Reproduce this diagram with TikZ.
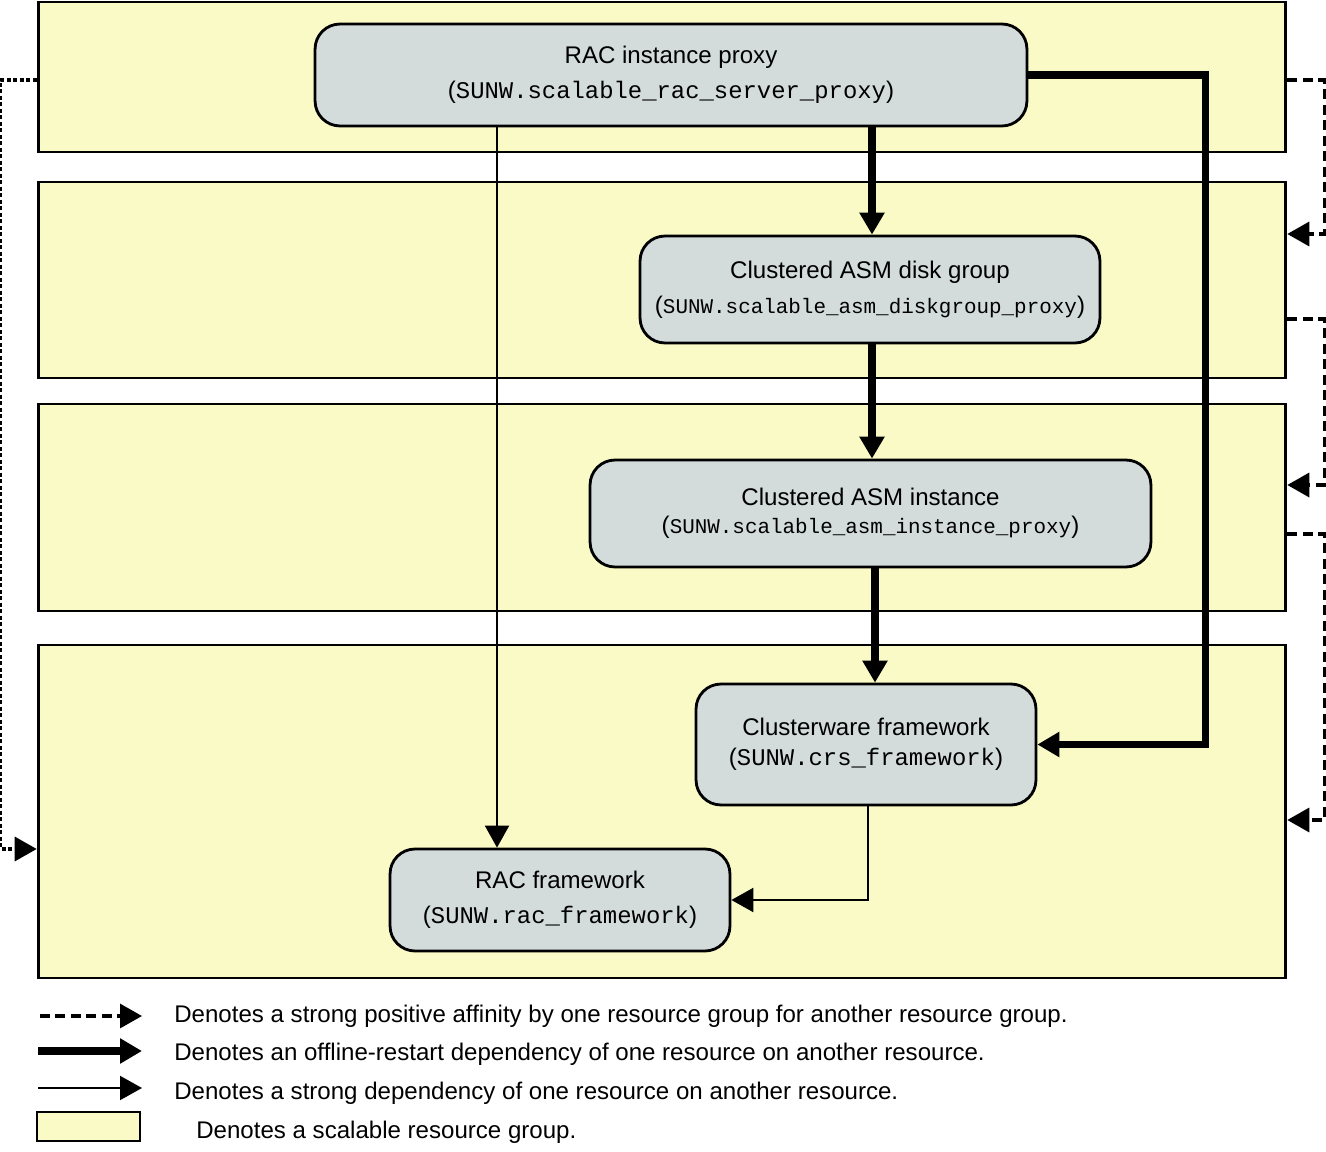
\documentclass[tikz,border=0pt]{standalone}
\usepackage{fontspec}
\setmainfont{Liberation Sans}
\setmonofont{Liberation Mono}
\usetikzlibrary{arrows.meta,positioning,calc}
\definecolor{groupyellow}{RGB}{250,250,198}
\definecolor{nodegrey}{RGB}{211,219,219}
\newcommand{\rescode}[1]{{\fontsize{13.6}{15}\ttfamily #1}}
\newcommand{\rescodesmall}[1]{{\fontsize{11.9}{14}\ttfamily #1}}

\begin{document}
\begin{tikzpicture}[x=0.02cm, y=-0.02cm,
    >={Triangle[length=0.44cm, width=0.48cm]},
    group/.style={draw, line width=1.6pt, fill=groupyellow, minimum width=24.96cm, inner sep=0pt},
    res/.style={draw, line width=1.6pt, fill=nodegrey, rounded corners=0.5cm, align=center,
                font=\fontsize{13.7}{16}\selectfont, inner sep=0pt},
    restart/.style={->, line width=4pt},
    strong/.style={->, line width=1.2pt},
    affinity/.style={->, line width=1.9pt, dash pattern=on 0.2cm off 0.11cm},
    legtext/.style={anchor=west, inner sep=0pt, font=\fontsize{13.7}{16}\selectfont}]
    \useasboundingbox (0,0) rectangle (1326,1152);

    % Resource groups
    \node[group, minimum height=3cm] (g1) at (662,77) {};
    \node[group, minimum height=3.92cm] (g2) at (662,280) {};
    \node[group, minimum height=4.14cm] (g3) at (662,507.5) {};
    \node[group, minimum height=6.66cm] (g4) at (662,811.5) {};

    % Resources
    \node[res, minimum width=14.24cm, minimum height=2.04cm] (proxy) at (671,75)
        {RAC instance proxy\\[4pt](\rescode{SUNW.scalable\_rac\_server\_proxy})};
    \node[res, minimum width=9.2cm, minimum height=2.14cm] (dg) at (870,289.5)
        {Clustered ASM disk group\\[4pt](\rescodesmall{SUNW.scalable\_asm\_diskgroup\_proxy})};
    \node[res, minimum width=11.22cm, minimum height=2.14cm] (asm) at (870.5,513.5)
        {Clustered ASM instance\\[0pt](\rescodesmall{SUNW.scalable\_asm\_instance\_proxy})};
    \node[res, minimum width=6.8cm, minimum height=2.42cm] (crs) at (866,744.5)
        {Clusterware framework\\[1pt](\rescode{SUNW.crs\_framework})};
    \node[res, minimum width=6.8cm, minimum height=2.04cm] (racfw) at (560,900)
        {RAC framework\\[4pt](\rescode{SUNW.rac\_framework})};

    % Offline-restart dependencies
    \draw[restart] ([xshift=0.04cm]dg.north |- proxy.south) -- ([xshift=0.04cm]dg.north);
    \draw[restart] ([xshift=0.04cm]dg.south) -- ([xshift=0.04cm]dg.south |- asm.north);
    \draw[restart] ([xshift=0.09cm]asm.south) -- ([xshift=0.09cm]asm.south |- crs.north);
    \draw[restart] (proxy.east) -- ++(177,0) |- (crs.east);

    % Strong dependencies
    \draw[strong] ([xshift=-1.26cm]racfw.north |- proxy.south) -- ([xshift=-1.26cm]racfw.north);
    \draw[strong] ([xshift=0.04cm]crs.south) |- (racfw.east);

    % Strong positive affinities
    \draw[affinity, dash pattern=on 0.08cm off 0.05cm] ($(g1.west)+(0,3)$) -- ++(-36,0) |- ($(g4.west)+(0,37.5)$);
    \draw[affinity] ($(g1.east)+(0,3)$) -- ++(37,0) |- ($(g2.east)+(0,-46)$);
    \draw[affinity] ($(g2.east)+(0,39)$) -- ++(37,0) |- ($(g3.east)+(0,-22.5)$);
    \draw[affinity] ($(g3.east)+(0,26.5)$) -- ++(37,0) |- ($(g4.east)+(0,8.5)$);

    % Legend
    \node[legtext] (lt1) at (174,1016) {Denotes a strong positive affinity by one resource group for another resource group.};
    \node[legtext] (lt2) at (174,1054) {Denotes an offline-restart dependency of one resource on another resource.};
    \node[legtext] (lt3) at (174,1093) {Denotes a strong dependency of one resource on another resource.};
    \node[legtext] (lt4) at (196,1132) {Denotes a scalable resource group.};
    \coordinate (la1) at (40,1016);
    \coordinate (la2) at (38,1051);
    \coordinate (la3) at (38,1088);
    \draw[affinity] (la1) -- (la1 -| 142,0);
    \draw[restart] (la2) -- (la2 -| 142,0);
    \draw[strong] (la3) -- (la3 -| 142,0);
    \node[group, minimum width=2.06cm, minimum height=0.58cm] (lgroup) at (88.5,1126.5) {};
\end{tikzpicture}
\end{document}
